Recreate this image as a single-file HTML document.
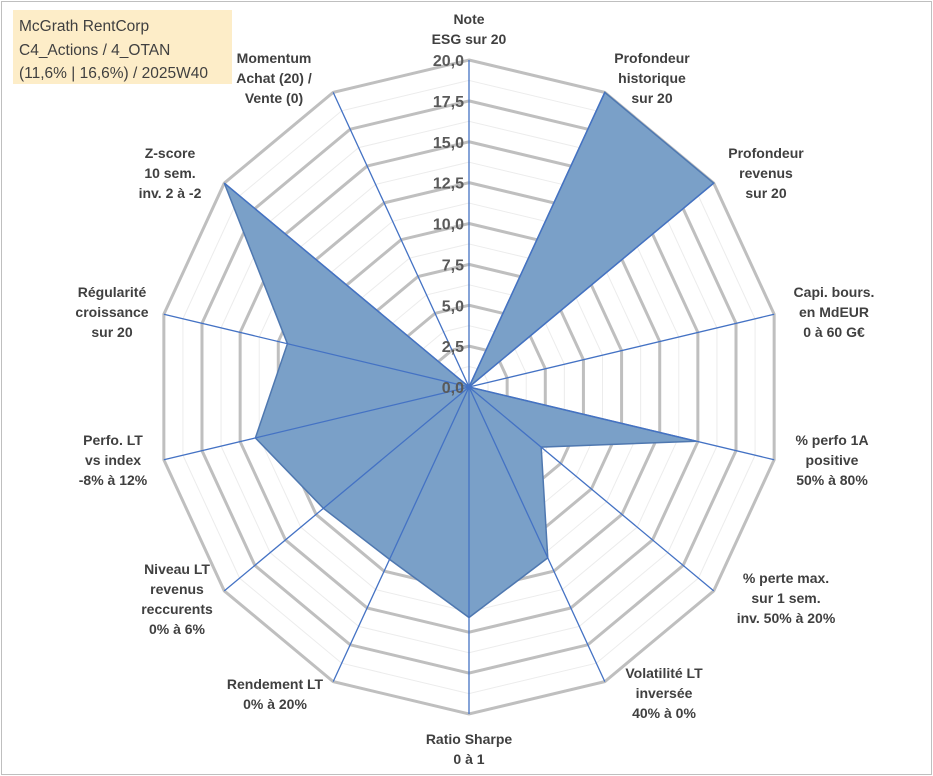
<!DOCTYPE html>
<html><head><meta charset="utf-8"><style>
body{margin:0;background:#fff;}
svg{display:block;font-family:"Liberation Sans",sans-serif;}
.lab{font-size:14px;font-weight:bold;fill:#404040;}
.tick{font-size:16px;font-weight:bold;fill:#595959;}
</style></head><body>
<svg id="chart" width="933" height="776">
<rect x="1.5" y="1.5" width="930" height="773" fill="#fff" stroke="#bfbfbf"/>
<g id="grid"></g>
<g id="series"></g>
<g id="spokes"></g>
<g id="ticks"></g>
<g id="labels"></g>
<rect x="13" y="10" width="219" height="74" fill="#fdedc8"/>
<text x="19" y="31" font-size="15.5" fill="#404040">McGrath RentCorp</text>
<text x="19" y="55" font-size="15.5" fill="#404040">C4_Actions / 4_OTAN</text>
<text x="19" y="78" font-size="15.5" fill="#404040">(11,6% | 16,6%) / 2025W40</text>
</svg>
<script>
const categories=[["Note","ESG sur 20"],["Profondeur","historique","sur 20"],["Profondeur","revenus","sur 20"],["Capi. bours.","en MdEUR","0 à 60 G€"],["% perfo 1A","positive","50% à 80%"],["% perte max.","sur 1 sem.","inv. 50% à 20%"],["Volatilité LT","inversée","40% à 0%"],["Ratio Sharpe","0 à 1"],["Rendement LT","0% à 20%"],["Niveau LT","revenus","reccurents","0% à 6%"],["Perfo. LT","vs index","-8% à 12%"],["Régularité","croissance","sur 20"],["Z-score","10 sem.","inv. 2 à -2"],["Momentum","Achat (20) /","Vente (0)"]];
const values=[0,20,20,0,14.9,5.9,11.6,14.1,11.7,11.9,14.0,11.9,20,0];
const tickLabels=["0,0","2,5","5,0","7,5","10,0","12,5","15,0","17,5","20,0"];
const maxVal=20;
const labelPos=[[469,19],[652,58],[766,153],[834,292],[832,440],[786,578],[664,673],[469,739],[275,684],[177,569],[113,440],[112,292],[170,153],[274,58]];
const cx=469,cy=387,RX=313,RY=327,NS="http://www.w3.org/2000/svg";
const n=categories.length;
function pt(i,v){const a=i*2*Math.PI/n;const f=v/maxVal;return [cx+f*RX*Math.sin(a),cy-f*RY*Math.cos(a)];}
function mk(tag,attrs,parent){const e=document.createElementNS(NS,tag);for(const k in attrs)e.setAttribute(k,attrs[k]);parent.appendChild(e);return e;}
const grid=document.getElementById('grid');
for(let k=1;k<=16;k++){const v=k*1.25;const p=[];for(let i=0;i<n;i++)p.push(pt(i,v).join(','));
const major=k%2===0;
const g=mk('polygon',{points:p.join(' '),fill:'none',stroke:major?'#bfbfbf':'#ececec','stroke-width':major?3:1},grid);

}
const ser=document.getElementById('series');
const sp=values.map((v,i)=>pt(i,v).join(',')).join(' ');
const poly=mk('polygon',{points:sp,fill:'#7aa0c8',stroke:'#4f78b0','stroke-width':1.5},ser);


const spokes=document.getElementById('spokes');
for(let i=0;i<n;i++){const e=pt(i,maxVal);
const l=mk('line',{x1:cx,y1:cy,x2:e[0],y2:e[1],stroke:'#4472c4','stroke-width':1.3},spokes);

}
const ticks=document.getElementById('ticks');
tickLabels.forEach((t,k)=>{const y=cy-(k*2.5)/maxVal*RY;
const tx=mk('text',{x:cx-5,y:y+6,'text-anchor':'end',class:'tick'},ticks);tx.textContent=t;

});
const labs=document.getElementById('labels');
categories.forEach((lines,i)=>{const [x,y]=labelPos[i];
const t=mk('text',{x:x,y:y+5,'text-anchor':'middle',class:'lab'},labs);


lines.forEach((ln,j)=>{const s=mk('tspan',{x:x,y:y+5+j*20},t);s.textContent=ln;});});
</script>
</body></html>
